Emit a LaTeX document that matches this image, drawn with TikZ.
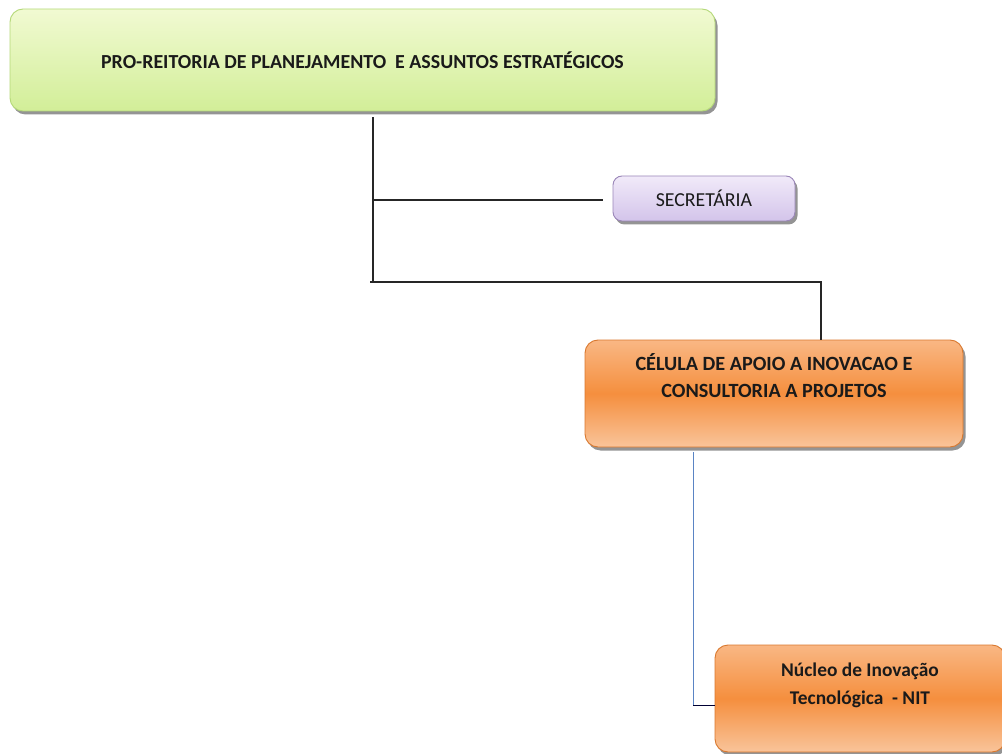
\documentclass[tikz,border=0pt]{standalone}
\usepackage{fontspec}
\setmainfont{Carlito}
\usetikzlibrary{shadows}
\definecolor{gtop}{HTML}{F1FAD2}
\definecolor{gbot}{HTML}{D2EE98}
\definecolor{gborder}{HTML}{B4D878}
\definecolor{ptop}{HTML}{F1EAF9}
\definecolor{pbot}{HTML}{D3C4EA}
\definecolor{pborder}{HTML}{9A86B8}
\definecolor{otop}{HTML}{F9B784}
\definecolor{omid}{HTML}{F58F3E}
\definecolor{obot}{HTML}{F9C49A}
\definecolor{oborder}{HTML}{D9782E}
\definecolor{blueline}{HTML}{5A84C4}
\definecolor{textc}{HTML}{1A1A1A}
\begin{document}
\begin{tikzpicture}[x=1pt,y=-1pt,
  box/.style={rounded corners=13pt, draw, line width=0.9pt, inner sep=0pt, text=textc,
    drop shadow={shadow xshift=2.5pt, shadow yshift=-3.5pt, opacity=0.6, fill=black!70}},
  greenbox/.style={box, top color=gtop, bottom color=gbot, draw=gborder,
    minimum width=705pt, minimum height=102pt},
  purplebox/.style={box, rounded corners=9pt, top color=ptop, bottom color=pbot, draw=pborder,
    minimum width=182pt, minimum height=45pt},
  orangebox/.style={box, top color=otop, bottom color=obot, middle color=omid, draw=oborder,
    minimum height=107pt},
  boxtext/.style={align=center, text=textc, inner sep=0pt},
  conn/.style={line width=1.2pt, draw=black!85},
  bconn/.style={line width=1pt, draw=blueline}]
\path[use as bounding box] (0,0) rectangle (1002,754);
\clip (0,0) rectangle (1002,754);

\node[greenbox, font=\fontsize{19.9}{24}\selectfont\bfseries] (pro) at (362.5,60) {PRO-REITORIA DE PLANEJAMENTO \ E ASSUNTOS ESTRATÉGICOS};
\node[purplebox, font=\fontsize{19.8}{24}\selectfont] (sec) at (704,198.5) {SECRETÁRIA};
\node[orangebox, minimum width=378pt,
  label={[boxtext, font=\fontsize{20.2}{27}\selectfont\bfseries, anchor=north, yshift=-14pt]north:{CÉLULA DE APOIO A INOVACAO E\\CONSULTORIA A PROJETOS}}] (cel) at (774,393.5) {};
\node[orangebox, minimum width=290pt,
  label={[boxtext, font=\fontsize{19.4}{28}\selectfont\bfseries, anchor=north, yshift=-18pt]north:{Núcleo de Inovação\\Tecnológica \ - NIT}}] (nit) at (860,698.5) {};

\coordinate (jsec) at (373,200);
\coordinate (jcel) at (373,282);
\coordinate (jcelr) at (821,282);
\coordinate (jnit) at (693,705);

\draw[conn] (pro.south -| jsec) ++(0,6) -- (jcel);
\draw[conn] (jsec) -- ([xshift=-10pt]sec.west |- jsec);
\draw[conn] ([xshift=-3pt]jcel) -- (jcelr) -- (cel.north -| jcelr);
\draw[bconn] ([yshift=-5pt]cel.south -| jnit) -- (jnit);
\draw[line width=1pt, draw=black!80!blue] (jnit) -- (nit.west |- jnit);
\end{tikzpicture}
\end{document}
